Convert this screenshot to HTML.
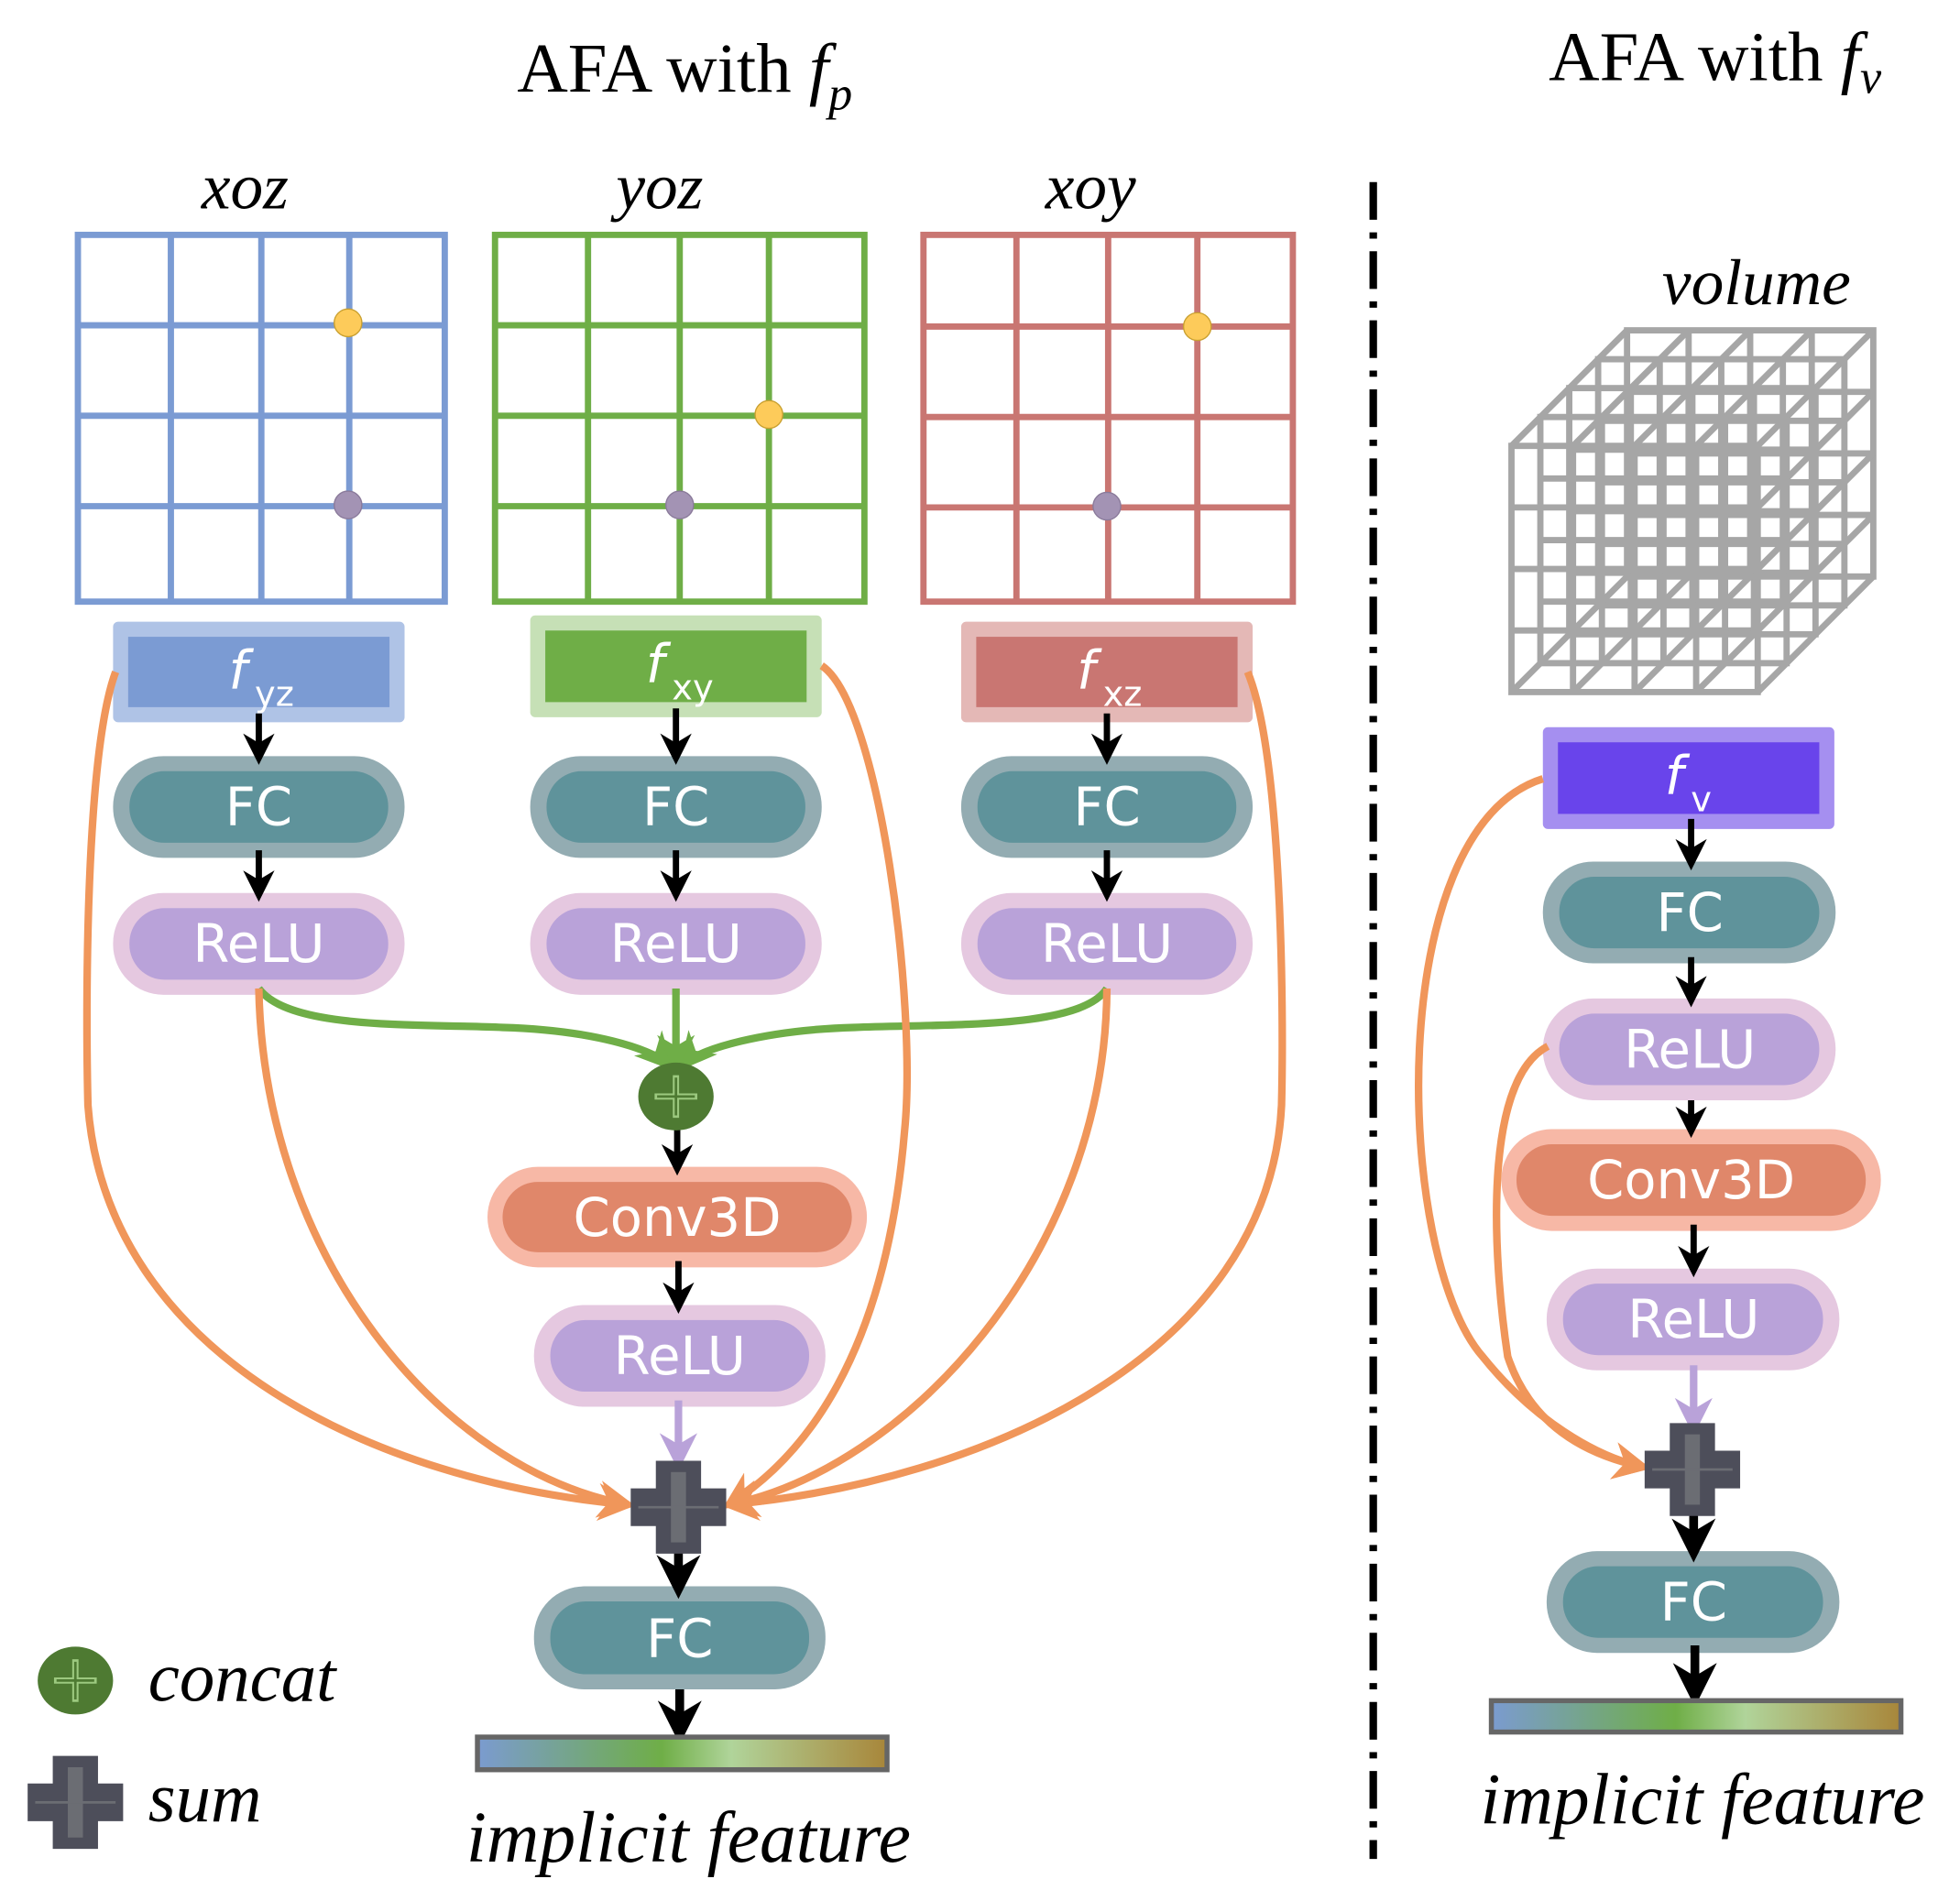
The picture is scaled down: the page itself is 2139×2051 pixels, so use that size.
<!DOCTYPE html>
<html><head><meta charset="utf-8"><style>html,body{margin:0;padding:0;background:#fff}svg{display:block}</style></head>
<body>
<svg width="2139" height="2051" viewBox="0 0 1560 1496" preserveAspectRatio="none" xmlns="http://www.w3.org/2000/svg">
<defs>
<marker id="ab" viewBox="0 0 10 10" refX="8" refY="5" markerWidth="5" markerHeight="5" orient="auto"><path d="M0,0 L10,5 L0,10 L3,5 z" fill="#000"/></marker>
<marker id="ao" viewBox="0 0 10 10" refX="8" refY="5" markerWidth="5" markerHeight="5" orient="auto"><path d="M0,0 L10,5 L0,10 L3,5 z" fill="#f0965a"/></marker>
<marker id="ag" viewBox="0 0 10 10" refX="8" refY="5" markerWidth="5" markerHeight="5" orient="auto"><path d="M0,0 L10,5 L0,10 L3,5 z" fill="#6fae47"/></marker>
<marker id="ap" viewBox="0 0 10 10" refX="8" refY="5" markerWidth="5" markerHeight="5" orient="auto"><path d="M0,0 L10,5 L0,10 L3,5 z" fill="#b9a2d9"/></marker>
<linearGradient id="gr" x1="0" x2="1"><stop offset="0" stop-color="#7b9bd0"/><stop offset="0.45" stop-color="#6fae47"/><stop offset="0.62" stop-color="#b0d49a"/><stop offset="1" stop-color="#a8863a"/></linearGradient>
</defs>
<g font-family="Liberation Serif, serif" fill="#000">
<text x="545" y="73" font-size="56" text-anchor="middle">AFA with <tspan font-style="italic">f</tspan><tspan font-style="italic" font-size="38" dy="14">p</tspan></text>
<text x="1365" y="64" font-size="56" text-anchor="middle">AFA with <tspan font-style="italic">f</tspan><tspan font-style="italic" font-size="38" dy="10">v</tspan></text>
<g font-style="italic" font-size="52" text-anchor="middle">
<text x="195" y="166">xoz</text><text x="525" y="166">yoz</text><text x="868" y="166">xoy</text>
<text x="1398" y="242">volume</text>
<text x="548" y="1482" font-size="58">implicit feature</text>
<text x="1355" y="1452" font-size="58">implicit feature</text>
<text x="118" y="1354" text-anchor="start" font-size="56">concat</text>
<text x="118" y="1450" text-anchor="start" font-size="56">sum</text>
</g>
</g>
<g fill="none" stroke-width="5">
<g stroke="#7b9bd3"><rect x="62" y="187" width="292" height="292"/><path d="M136,187V479M208,187V479M278,187V479M62,259H354M62,331H354M62,403H354"/></g>
<g stroke="#6fae47"><rect x="394" y="187" width="294" height="292"/><path d="M468,187V479M541,187V479M612,187V479M394,259H688M394,331H688M394,403H688"/></g>
<g stroke="#c97672"><rect x="735" y="187" width="294" height="292"/><path d="M809,187V479M882,187V479M953,187V479M735,260H1029M735,332H1029M735,404H1029"/></g>
</g>
<g stroke="#c9a030" stroke-width="1"><circle cx="277" cy="257" r="11" fill="#fdcb5a"/><circle cx="612" cy="330" r="11" fill="#fdcb5a"/><circle cx="953" cy="260" r="11" fill="#fdcb5a"/></g>
<g stroke="#8a7a9a" stroke-width="1" fill="#a393b4"><circle cx="277" cy="402" r="11"/><circle cx="541" cy="402" r="11"/><circle cx="881" cy="403" r="11"/></g>
<g fill="none" stroke="#a6a6a6" stroke-width="5">
<g id="sl"><rect x="1203" y="355" width="196" height="196"/><path d="M1252,355V551M1301,355V551M1350,355V551M1203,404H1399M1203,453H1399M1203,502H1399"/></g>
<use href="#sl" transform="translate(23,-23)"/><use href="#sl" transform="translate(46,-46)"/><use href="#sl" transform="translate(69,-69)"/><use href="#sl" transform="translate(92,-92)"/>
<path d="M1203,355l92,-92M1252,355l92,-92M1301,355l92,-92M1350,355l92,-92M1399,355l92,-92M1399,404l92,-92M1399,453l92,-92M1399,502l92,-92M1399,551l92,-92M1203,551l92,-92M1252,551l92,-92M1301,551l92,-92M1350,551l92,-92"/>
</g>
<rect x="90" y="495" width="232" height="80" rx="4" fill="#afc3e6"/><rect x="102" y="507" width="208" height="56" fill="#7b9bd3"/>
<rect x="422" y="490" width="232" height="81" rx="4" fill="#c6e0b6"/><rect x="434" y="502" width="208" height="57" fill="#6fae47"/>
<rect x="765" y="495" width="232" height="80" rx="4" fill="#e4b8b6"/><rect x="777" y="507" width="208" height="56" fill="#c97672"/>
<rect x="1228" y="579" width="232" height="81" rx="4" fill="#a58ff0"/><rect x="1240" y="591" width="208" height="57" fill="#6944eb"/>
<g fill="#fff" font-family="DejaVu Sans, sans-serif">
<text x="182" y="548" font-size="42" font-style="italic">f<tspan font-size="28" font-style="normal" dy="14" dx="6">yz</tspan></text>
<text x="514" y="543" font-size="42" font-style="italic">f<tspan font-size="28" font-style="normal" dy="14" dx="6">xy</tspan></text>
<text x="857" y="548" font-size="42" font-style="italic">f<tspan font-size="28" font-style="normal" dy="14" dx="6">xz</tspan></text>
<text x="1325" y="632" font-size="42" font-style="italic">f<tspan font-size="28" font-style="normal" dy="14" dx="6">v</tspan></text>
</g>
<g font-family="DejaVu Sans, sans-serif" font-size="42" fill="#fff" text-anchor="middle">
<g><rect x="90" y="602" width="232" height="81" rx="40" fill="#93acb2"/><rect x="103" y="614" width="206" height="57" rx="28" fill="#5f939b"/><text x="206" y="657">FC</text></g>
<g><rect x="422" y="602" width="232" height="81" rx="40" fill="#93acb2"/><rect x="435" y="614" width="206" height="57" rx="28" fill="#5f939b"/><text x="538" y="657">FC</text></g>
<g><rect x="765" y="602" width="232" height="81" rx="40" fill="#93acb2"/><rect x="778" y="614" width="206" height="57" rx="28" fill="#5f939b"/><text x="881" y="657">FC</text></g>
<g><rect x="90" y="711" width="232" height="81" rx="40" fill="#e5c8e0"/><rect x="103" y="723" width="206" height="57" rx="28" fill="#b9a2d9"/><text x="206" y="766">ReLU</text></g>
<g><rect x="422" y="711" width="232" height="81" rx="40" fill="#e5c8e0"/><rect x="435" y="723" width="206" height="57" rx="28" fill="#b9a2d9"/><text x="538" y="766">ReLU</text></g>
<g><rect x="765" y="711" width="232" height="81" rx="40" fill="#e5c8e0"/><rect x="778" y="723" width="206" height="57" rx="28" fill="#b9a2d9"/><text x="881" y="766">ReLU</text></g>
<g><rect x="388" y="929" width="302" height="80" rx="40" fill="#f7b8a6"/><rect x="400" y="941" width="278" height="56" rx="28" fill="#e0876a"/><text x="539" y="984">Conv3D</text></g>
<g><rect x="425" y="1039" width="232" height="81" rx="40" fill="#e5c8e0"/><rect x="438" y="1051" width="206" height="57" rx="28" fill="#b9a2d9"/><text x="541" y="1094">ReLU</text></g>
<g><rect x="425" y="1263" width="232" height="82" rx="40" fill="#93acb2"/><rect x="438" y="1275" width="206" height="58" rx="28" fill="#5f939b"/><text x="541" y="1319">FC</text></g>
<g><rect x="1228" y="686" width="233" height="81" rx="40" fill="#93acb2"/><rect x="1241" y="698" width="207" height="57" rx="28" fill="#5f939b"/><text x="1345" y="741">FC</text></g>
<g><rect x="1228" y="795" width="233" height="81" rx="40" fill="#e5c8e0"/><rect x="1241" y="807" width="207" height="57" rx="28" fill="#b9a2d9"/><text x="1345" y="850">ReLU</text></g>
<g><rect x="1195" y="899" width="302" height="81" rx="40" fill="#f7b8a6"/><rect x="1207" y="911" width="278" height="57" rx="28" fill="#e0876a"/><text x="1346" y="954">Conv3D</text></g>
<g><rect x="1231" y="1010" width="233" height="81" rx="40" fill="#e5c8e0"/><rect x="1244" y="1022" width="207" height="57" rx="28" fill="#b9a2d9"/><text x="1348" y="1065">ReLU</text></g>
<g><rect x="1231" y="1235" width="233" height="81" rx="40" fill="#93acb2"/><rect x="1244" y="1247" width="207" height="57" rx="28" fill="#5f939b"/><text x="1348" y="1290">FC</text></g>
</g>
<g stroke="#000" stroke-width="5" fill="none" marker-end="url(#ab)">
<path d="M206,568V604"/><path d="M538,564V604"/><path d="M881,568V604"/>
<path d="M206,677V713"/><path d="M538,677V713"/><path d="M881,677V713"/>
<path d="M539,897V931"/><path d="M540,1004V1041"/>
<path d="M540,1228V1266" stroke-width="7"/><path d="M541,1345V1382" stroke-width="7"/>
<path d="M1346,652V688"/><path d="M1346,762V797"/><path d="M1346,876V901"/><path d="M1348,975V1012"/>
<path d="M1348,1190V1237" stroke-width="7"/><path d="M1349,1310V1352" stroke-width="7"/>
</g>
<g stroke="#6fae47" stroke-width="6" fill="none">
<path d="M206,787C230,820 330,815 400,818C470,820 520,835 532,848" marker-end="url(#ag)"/>
<path d="M881,787C860,820 750,815 680,818C610,820 555,835 544,848" marker-end="url(#ag)"/>
<path d="M538,787V848" marker-end="url(#ag)"/>
</g>
<g stroke="#b9a2d9" stroke-width="6" fill="none"><path d="M540,1115V1165" marker-end="url(#ap)"/><path d="M1348,1087V1137" marker-end="url(#ap)"/></g>
<g stroke="#f0965a" stroke-width="6" fill="none" marker-end="url(#ao)">
<path d="M92,535C68,600 68,800 70,880C85,1080 300,1180 500,1198"/>
<path d="M206,787C210,1000 350,1170 500,1198"/>
<path d="M654,530C700,560 730,800 720,900C705,1080 640,1160 580,1198"/>
<path d="M881,787C880,1000 720,1170 580,1198"/>
<path d="M993,535C1020,600 1022,800 1020,880C1010,1080 780,1180 580,1198"/>
<path d="M1228,620C1100,660 1110,1000 1180,1080C1220,1130 1270,1160 1308,1168"/>
<path d="M1232,833C1180,860 1188,1000 1200,1080C1220,1140 1270,1160 1308,1168"/>
</g>
<ellipse cx="538" cy="873" rx="30" ry="27" fill="#4e7a32"/>
<path d="M538,856V890M521,873H555" stroke="#9cc97f" stroke-width="5"/><path d="M538,858V888M523,873H553" stroke="#4e7a32" stroke-width="2"/>
<ellipse cx="60" cy="1338" rx="30" ry="27" fill="#4e7a32"/>
<path d="M60,1321V1355M43,1338H77" stroke="#9cc97f" stroke-width="5"/><path d="M60,1323V1353M45,1338H75" stroke="#4e7a32" stroke-width="2"/>
<g id="sm"><path d="M522,1163H558V1185H578V1215H558V1237H522V1215H502V1185H522Z" fill="#4d4e5a"/><rect x="534" y="1172" width="12" height="56" fill="#6b6d73"/><path d="M508,1200H572" stroke="#6b6d73" stroke-width="2"/></g>
<use href="#sm" transform="translate(807,-30)"/>
<use href="#sm" transform="translate(-480,235)"/>
<rect x="380" y="1383" width="326" height="26" fill="url(#gr)" stroke="#666" stroke-width="4"/>
<rect x="1187" y="1354" width="326" height="25" fill="url(#gr)" stroke="#666" stroke-width="4"/>
<path d="M1093,145V1480" stroke="#000" stroke-width="6" stroke-dasharray="30,10,5,10"/>
</svg>
</body></html>
